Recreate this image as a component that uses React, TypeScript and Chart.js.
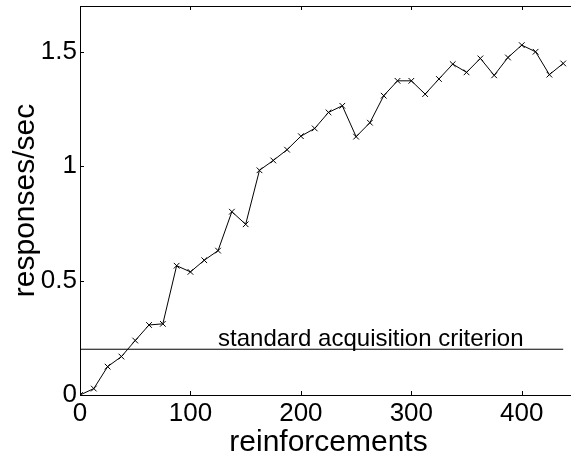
import React, { useEffect, useRef } from 'react';
import { Chart, registerables } from 'chart.js';

Chart.register(...registerables);

// ---- data ----
const reinforcements = [
  0, 12.5, 25, 37.5, 50, 62.5, 75, 87.5, 100, 112.5, 125, 137.5,
  150, 162.5, 175, 187.5, 200, 212.5, 225, 237.5, 250, 262.5, 275, 287.5,
  300, 312.5, 325, 337.5, 350, 362.5, 375, 387.5, 400, 412.5, 425, 437.5,
];
const responsesPerSec = [
  0, 0.028, 0.124, 0.168, 0.238, 0.306, 0.311, 0.565, 0.538, 0.589, 0.631, 0.801,
  0.746, 0.982, 1.025, 1.072, 1.131, 1.165, 1.235, 1.264, 1.129, 1.19, 1.308, 1.373,
  1.373, 1.315, 1.381, 1.446, 1.41, 1.471, 1.397, 1.475, 1.529, 1.5, 1.4, 1.449,
];
const criterionLevel = 0.2;
const criterionLabel = 'standard acquisition criterion';
const criterionLabelX = 125;
const criterionLabelY = 0.213;
const xTickValues = [0, 100, 200, 300, 400];
const yTickValues = [0, 0.5, 1, 1.5];
const xTickLabels = ['0', '100', '200', '300', '400'];
const yTickLabels = ['0', '0.5', '1', '1.5'];
const xTitle = 'reinforcements';
const yTitle = 'responses/sec';

const FONT = '"Liberation Sans", Arial, Helvetica, sans-serif';

const framePlugin = {
  id: 'matlabFrame',
  afterDraw(chart: any) {
    const { ctx, chartArea: a, scales } = chart;
    ctx.save();
    ctx.strokeStyle = '#000';
    ctx.lineWidth = 1;
    ctx.strokeRect(a.left + 0.5, a.top + 0.5, a.right - a.left, a.bottom - a.top);
    const L = 4;
    ctx.beginPath();
    scales.x.ticks.forEach((t: any) => {
      const px = Math.round(scales.x.getPixelForValue(t.value)) + 0.5;
      ctx.moveTo(px, a.bottom);
      ctx.lineTo(px, a.bottom - L);
      ctx.moveTo(px, a.top);
      ctx.lineTo(px, a.top + L);
    });
    scales.y.ticks.forEach((t: any) => {
      const py = Math.round(scales.y.getPixelForValue(t.value)) + 0.5;
      ctx.moveTo(a.left, py);
      ctx.lineTo(a.left + L, py);
      ctx.moveTo(a.right, py);
      ctx.lineTo(a.right - L, py);
    });
    ctx.stroke();
    ctx.fillStyle = '#000';
    ctx.font = `24px ${FONT}`;
    ctx.textAlign = 'left';
    ctx.textBaseline = 'alphabetic';
    ctx.fillText(
      criterionLabel,
      scales.x.getPixelForValue(criterionLabelX),
      scales.y.getPixelForValue(criterionLabelY)
    );
    ctx.restore();
  },
};

export default function App() {
  const canvasRef = useRef<HTMLCanvasElement | null>(null);

  useEffect(() => {
    if (!canvasRef.current) return;
    const chart = new Chart(canvasRef.current, {
      type: 'line',
      data: {
        datasets: [
          {
            data: reinforcements.map((x, i) => ({ x, y: responsesPerSec[i] })),
            borderColor: '#000',
            borderWidth: 1,
            pointStyle: 'crossRot',
            pointRadius: 4,
            pointBorderColor: '#000',
            pointBorderWidth: 1,
            pointBackgroundColor: '#000',
            tension: 0,
            fill: false,
          },
          {
            data: [
              { x: reinforcements[0], y: criterionLevel },
              { x: reinforcements[reinforcements.length - 1], y: criterionLevel },
            ],
            borderColor: '#000',
            borderWidth: 1,
            pointRadius: 0,
            tension: 0,
            fill: false,
          },
        ],
      },
      options: {
        animation: false,
        responsive: false,
        events: [],
        layout: { padding: { top: 6, right: 23, bottom: 0, left: 0 } },
        plugins: {
          legend: { display: false },
          tooltip: { enabled: false },
        },
        scales: {
          x: {
            type: 'linear',
            min: 0,
            max: 450,
            grid: { display: false, drawTicks: false },
            border: { display: false },
            afterBuildTicks: (scale: any) => {
              scale.ticks = xTickValues.map((v) => ({ value: v }));
            },
            afterFit: (scale: any) => {
              scale.height = 66;
              scale.paddingLeft = 0;
              scale.paddingRight = 0;
            },
            ticks: {
              color: '#000',
              padding: 3,
              maxRotation: 0,
              font: { family: FONT, size: 26 },
              callback: (v: any) => xTickLabels[xTickValues.indexOf(Number(v))] ?? '',
            },
            title: {
              display: true,
              text: xTitle,
              color: '#000',
              padding: 0,
              font: { family: FONT, size: 30 },
            },
          },
          y: {
            type: 'linear',
            min: 0,
            max: 1.7,
            grid: { display: false, drawTicks: false },
            border: { display: false },
            afterBuildTicks: (scale: any) => {
              scale.ticks = yTickValues.map((v) => ({ value: v }));
            },
            afterFit: (scale: any) => {
              scale.width = 80;
              scale.paddingTop = 0;
              scale.paddingBottom = 0;
            },
            ticks: {
              color: '#000',
              padding: 3,
              font: { family: FONT, size: 26 },
              callback: (v: any) => yTickLabels[yTickValues.indexOf(Number(v))] ?? '',
            },
            title: {
              display: true,
              text: yTitle,
              color: '#000',
              padding: { top: 8, bottom: 0 },
              font: { family: FONT, size: 30 },
            },
          },
        },
      },
      plugins: [framePlugin],
    });
    return () => chart.destroy();
  }, []);

  return (
    <div style={{ position: 'fixed', left: 0, top: 0, width: 600, height: 461, background: '#fff' }}>
      <canvas ref={canvasRef} width={600} height={461} style={{ display: 'block' }} />
    </div>
  );
}
